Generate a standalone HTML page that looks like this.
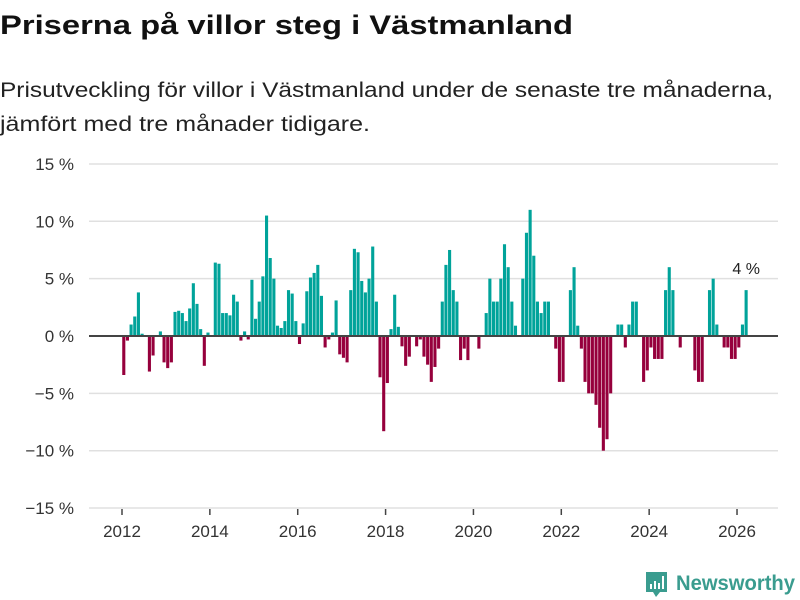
<!DOCTYPE html>
<html><head><meta charset="utf-8"><style>
html,body{margin:0;padding:0;background:#fff;width:800px;height:600px;overflow:hidden}
svg{display:block;font-family:"Liberation Sans",sans-serif}
</style></head><body>
<svg id="chart" width="800" height="600">
<text x="0" y="34" font-size="27" font-weight="bold" fill="#111" textLength="573" lengthAdjust="spacingAndGlyphs">Priserna på villor steg i Västmanland</text>
<text x="0" y="97" font-size="21" fill="#222" textLength="773" lengthAdjust="spacingAndGlyphs">Prisutveckling för villor i Västmanland under de senaste tre månaderna,</text>
<text x="0" y="131" font-size="21" fill="#222" textLength="370" lengthAdjust="spacingAndGlyphs">jämfört med tre månader tidigare.</text>
<g id="grid"></g><g id="bars"></g><g id="axes"></g>
<g>
<path d="M646 572h21v20h-7l-4 5-3-5h-7z" fill="#3a9c8f"/>
<rect x="650" y="584" width="2" height="5" fill="#fff"/><rect x="654" y="581" width="2" height="8" fill="#fff"/><rect x="658" y="583" width="2" height="6" fill="#fff"/><rect x="662" y="576" width="2" height="13" fill="#fff"/>
<text x="676" y="590" font-size="21" font-weight="bold" fill="#3a9c8f" textLength="119" lengthAdjust="spacingAndGlyphs">Newsworthy</text>
</g>
</svg>
<script>
const yTicks=[15,10,5,0,-5,-10,-15];
const xYears=[2012,2014,2016,2018,2020,2022,2024,2026];
const startYear=2012;
const values=[-3.4,-0.4,1.0,1.7,3.8,0.2,0,-3.1,-1.7,0,0.4,-2.3,-2.8,-2.3,2.1,2.2,2.0,1.3,2.4,4.6,2.8,0.6,-2.6,0.3,0,6.4,6.3,2.0,2.0,1.8,3.6,3.0,-0.4,0.4,-0.3,4.9,1.5,3.0,5.2,10.5,6.8,5.0,0.9,0.7,1.3,4.0,3.7,1.3,-0.7,1.1,3.9,5.1,5.5,6.2,3.5,-1.0,-0.3,0.3,3.1,-1.6,-1.9,-2.3,4.0,7.6,7.3,4.8,3.8,5.0,7.8,3.0,-3.6,-8.3,-4.1,0.6,3.6,0.8,-0.9,-2.6,-1.8,0,-0.9,-0.3,-1.8,-2.5,-4.0,-2.7,-1.1,3.0,6.2,7.5,4.0,3.0,-2.1,-1.1,-2.1,0,0,-1.1,0,2.0,5.0,3.0,3.0,5.0,8.0,6.0,3.0,0.9,0,5.0,9.0,11.0,7.0,3.0,2.0,3.0,3.0,0,-1.1,-4.0,-4.0,0,4.0,6.0,0.9,-1.1,-4.0,-5.0,-5.0,-6.0,-8.0,-10.0,-9.0,-5.0,0,1.0,1.0,-1.0,1.0,3.0,3.0,0,-4.0,-3.0,-1.0,-2.0,-2.0,-2.0,4.0,6.0,4.0,0,-1.0,0,0,0,-3.0,-4.0,-4.0,0,4.0,5.0,1.0,0,-1.0,-1.0,-2.0,-2.0,-1.0,1.0,4.0];
const lastLabel="4 %";
const NS="http://www.w3.org/2000/svg";
const y=v=>336-v*11.47;
const x=yr=>122+(yr-startYear)*43.93;
function mk(t,a,p){const e=document.createElementNS(NS,t);for(const k in a)e.setAttribute(k,a[k]);p.appendChild(e);return e;}
const grid=document.getElementById('grid'),bars=document.getElementById('bars'),axes=document.getElementById('axes');
yTicks.forEach(t=>{
 if(t!==0){const l=mk('line',{x1:89,x2:778,y1:y(t),y2:y(t),stroke:'#e0e0e0','stroke-width':1.5},grid);
 
 }
 const tx=mk('text',{x:74,y:y(t)+6,'font-size':17,fill:'#333','text-anchor':'end'},axes);
 tx.textContent=(t<0?'\u2212'+(-t):t)+' %';
 
 
});
xYears.forEach(yr=>{
 const l=mk('line',{x1:x(yr),x2:x(yr),y1:509,y2:515,stroke:'#444','stroke-width':1.5},axes);
 
 
 const t=mk('text',{x:x(yr),y:537,'font-size':17,fill:'#333','text-anchor':'middle'},axes);
 t.textContent=yr;
 
 
});
values.forEach((v,i)=>{
 const cx=x(startYear+(i+0.5)/12);
 const r=mk('rect',{x:cx-1.6,width:3.1,y:Math.min(y(v),y(0)),height:Math.abs(y(v)-y(0)),fill:v>=0?'#00a39a':'#96003c'},bars);
 
 
});
const z=mk('line',{x1:89,x2:778,y1:y(0),y2:y(0),stroke:'#444','stroke-width':2},axes);


const li=values.length-1;
const lab=mk('text',{x:x(startYear+(li+0.5)/12),y:y(values[li])-16,'font-size':16,fill:'#222','text-anchor':'middle'},axes);
lab.textContent=lastLabel;


</script>
</body></html>
